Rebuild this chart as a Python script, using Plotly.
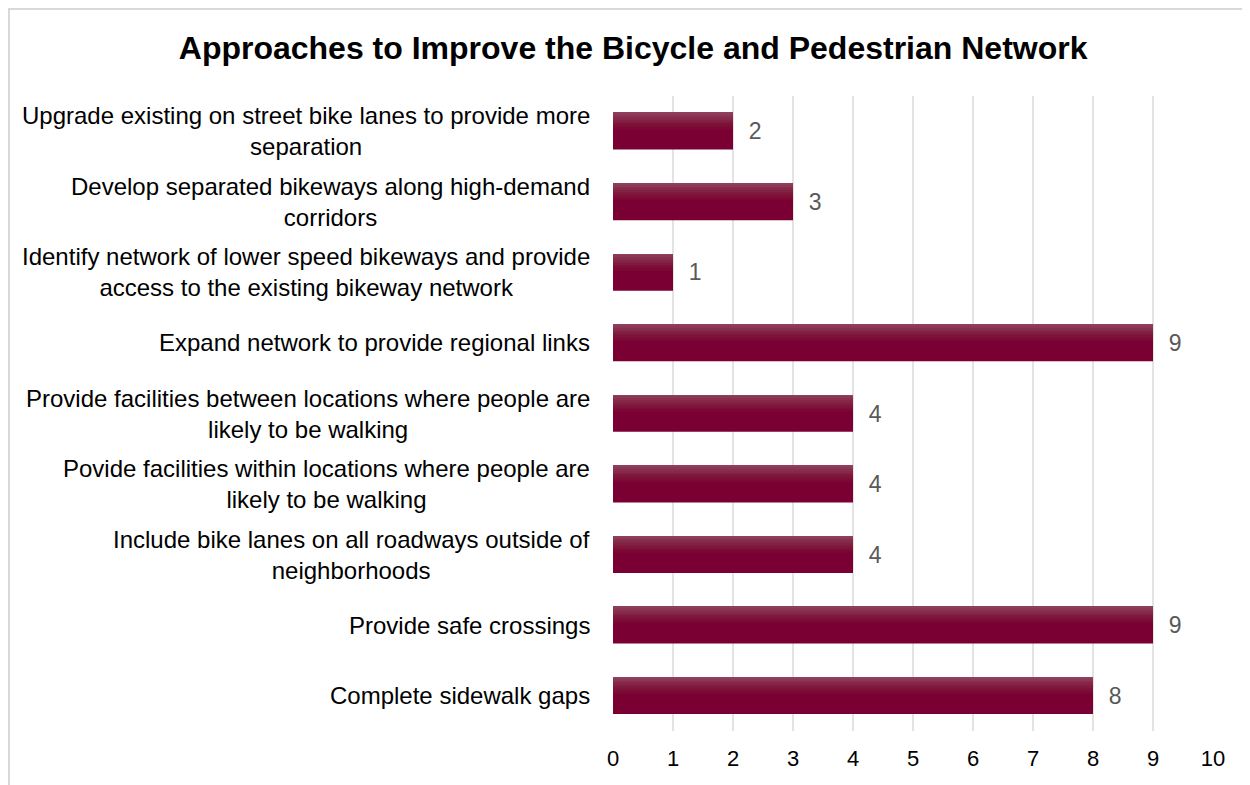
import plotly.graph_objects as go

categories = [
    "Upgrade existing on street bike lanes to provide more<br>separation",
    "Develop separated bikeways along high-demand<br>corridors",
    "Identify network of lower speed bikeways and provide<br>access to the existing bikeway network",
    "Expand network to provide regional links",
    "Provide facilities between locations where people are<br>likely to be walking",
    "Povide facilities within locations where people are<br>likely to be walking",
    "Include bike lanes on all roadways outside of<br>neighborhoods",
    "Provide safe crossings",
    "Complete sidewalk gaps",
]
values = [2, 3, 1, 9, 4, 4, 4, 9, 8]
x_ticks = list(range(0, 11))

title = "Approaches to Improve the Bicycle and Pedestrian Network"
bar_color = "#7a0033"
bar_w = 0.52
narrow = "Liberation Sans Narrow, Arial Narrow, Liberation Sans"

fig = go.Figure()
fig.add_trace(go.Bar(
    y=categories, x=values, orientation="h", width=bar_w,
    marker=dict(color=bar_color, line=dict(width=0)),
    text=["\u00a0\u00a0" + str(v) for v in values], textposition="outside",
    textfont=dict(family=narrow, size=23, color="#595959"),
    cliponaxis=False, hoverinfo="skip",
))
# top highlight gradient strips
grad = ["#8e3f5c", "#8b3755", "#882f4f", "#852849", "#822143", "#7f1a3e",
        "#7d1339", "#7c0d36", "#7b0734"]
n = len(grad)
strip = bar_w * 0.45 / n
for i, c in enumerate(grad):
    fig.add_trace(go.Bar(
        y=categories, x=values, orientation="h", width=strip * 1.05,
        offset=-bar_w / 2 + i * strip,
        marker=dict(color=c, line=dict(width=0)),
        hoverinfo="skip", showlegend=False,
    ))

for cat in categories:
    fig.add_annotation(
        x=0, xref="paper", y=cat, yref="y", xanchor="right", yanchor="middle",
        xshift=-21, text=cat, showarrow=False, align="center",
        font=dict(family="Liberation Sans, Arial", size=24, color="#000000"),
    )

L, T, PW, PH = 605, 88, 600, 635
fig.add_shape(type="rect", xref="paper", yref="paper",
              x0=(1 - L) / PW, x1=(1270 - L) / PW,
              y0=(T + PH - 800) / PH, y1=(T + PH - 1) / PH,
              line=dict(color="#d9d9d9", width=2), fillcolor="rgba(0,0,0,0)", layer="below")

fig.update_layout(
    width=1250, height=785,
    paper_bgcolor="white", plot_bgcolor="white",
    margin=dict(l=L, r=1250 - L - PW, t=T, b=785 - T - PH),
    barmode="overlay", showlegend=False,
    title=dict(text=title, x=(625 - 8) / 1250 + 0.0065, xanchor="center", y=1 - 40 / 785, yanchor="middle",
               font=dict(family="Liberation Sans, Arial", size=32, color="#000000", weight="bold")),
    xaxis=dict(range=[0, 10], tickvals=x_ticks, showgrid=True, gridcolor="#e3e3e3", gridwidth=2,
               zeroline=False, showline=False, ticks="", ticklabelstandoff=12,
               tickfont=dict(family=narrow, size=22, color="#000000")),
    yaxis=dict(autorange="reversed", showticklabels=False, showgrid=False, zeroline=False, ticks=""),
)

fig.write_html("out.html")
